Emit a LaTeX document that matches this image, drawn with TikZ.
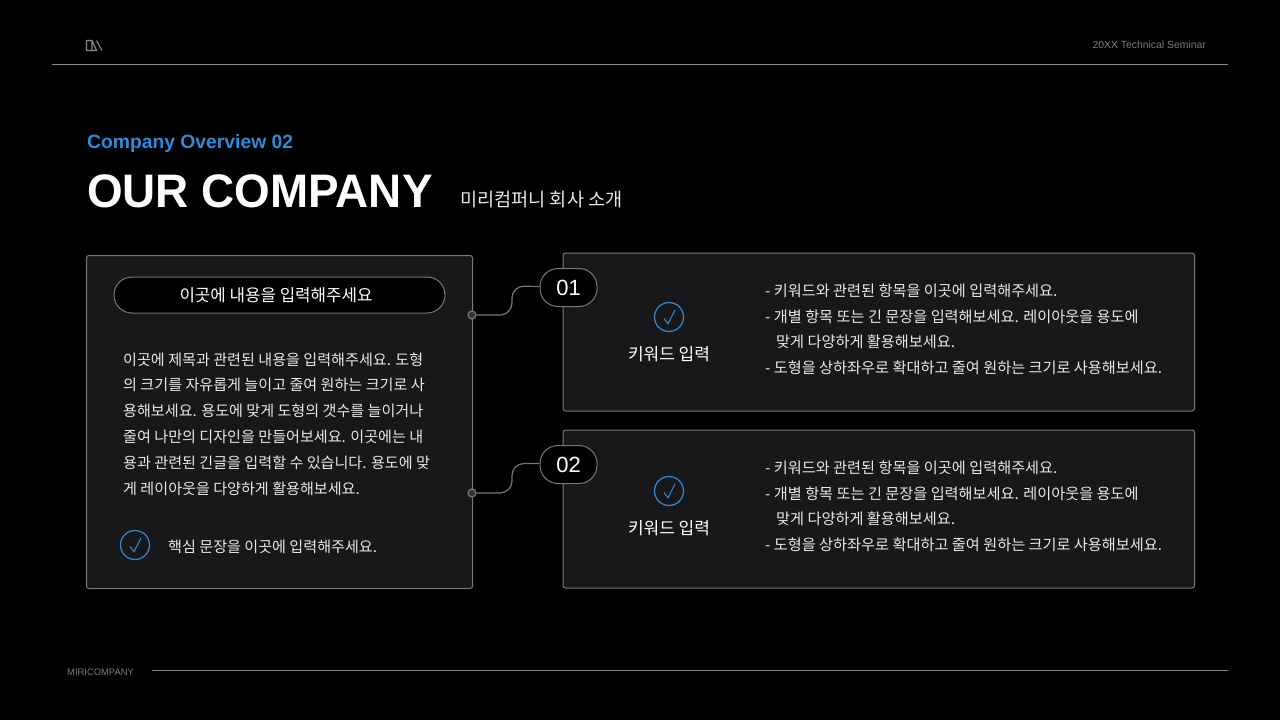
\documentclass[tikz,border=0pt]{standalone}
\usepackage{fontspec}
\setmainfont{Noto Sans CJK KR}
\newfontfamily\latinf{Liberation Sans}
\usetikzlibrary{calc}
\definecolor{bg}{HTML}{000000}
\definecolor{panel}{HTML}{18181B}
\definecolor{edge}{HTML}{77787A}
\definecolor{rulec}{HTML}{8C8C8C}
\definecolor{blue1}{HTML}{2E8BDB}
\definecolor{txt}{HTML}{E8E8E8}
\tikzset{
 panelbox/.style={draw=edge,fill=panel,line width=1pt,rounded corners=2.5pt},
 pill/.style={draw=edge,fill=black,line width=1pt,rounded corners=18pt,text=white,inner sep=0pt,anchor=center},
 wire/.style={draw=edge,line width=1.2pt,rounded corners=12pt},
 dotn/.style={circle,draw=edge,fill=panel!70!edge,line width=1.2pt,minimum size=8pt,inner sep=0pt},
 ln/.style={anchor=base west,inner sep=0pt,text=txt,font=\fontsize{15.2}{15.2}\selectfont},
 lnp/.style={ln,font=\fontsize{15.1}{15.1}\selectfont},
 kw/.style={anchor=center,inner sep=0pt,text=white,font=\fontsize{17}{17}\selectfont},
 ring/.style={circle,draw=blue1,line width=1.2pt,inner sep=0pt},
 tick/.style={draw=blue1,line width=1pt},
 small/.style={inner sep=0pt,text=rulec!115},
}
\newcommand{\blocktxt}[2]{%
 \node[ln] (#1a) at (765,#2) {- 키워드와 관련된 항목을 이곳에 입력해주세요.};
 \node[ln] (#1b) at (765,#2+25.7) {- 개별 항목 또는 긴 문장을 입력해보세요. 레이아웃을 용도에};
 \node[ln] (#1c) at (776,#2+51.4) {맞게 다양하게 활용해보세요.};
 \node[ln] (#1d) at (765,#2+77.1) {- 도형을 상하좌우로 확대하고 줄여 원하는 크기로 사용해보세요.};
}
\begin{document}
\begin{tikzpicture}[x=1pt,y=-1pt]
\useasboundingbox[fill=bg] (0,0) rectangle (1280,720);
% header
\draw[rulec,line width=0.8pt] (52,64.5) -- (1228,64.5);
\draw[rulec,line width=0.8pt] (152,670.5) -- (1228,670.5);
\draw[rulec,line width=1.1pt] (92,50.5) -- (86.5,50.5) -- (86.5,40.5) -- (92,40.5) -- (96.5,50.5) -- (92,50.5) -- (92,40.5);
\draw[rulec,line width=1.1pt] (96.5,40.5) -- (102,50.5);
\node[small,anchor=east,font=\latinf\fontsize{10.4}{10.4}\selectfont] (sem) at (1206,44.5) {20XX Technical Seminar};
\node[small,anchor=west,font=\latinf\fontsize{9.4}{9.4}\selectfont] (mc) at (67,672) {MIRICOMPANY};
% titles
\node[anchor=base west,inner sep=0pt,text=blue1,font=\latinf\bfseries\fontsize{19.3}{19.3}\selectfont] (ov) at (87,148) {Company Overview 02};
\node[anchor=base west,inner sep=0pt,text=white,xscale=.975,font=\latinf\bfseries\fontsize{47}{47}\selectfont] (ttl) at (87,207) {OUR COMPANY};
\node[anchor=base west,inner sep=0pt,text=txt,font=\fontsize{18.6}{18.6}\selectfont] (sub) at (460,206) {미리컴퍼니 회사 소개};
% panels
\path[panelbox] (86.5,255.5) rectangle (472.5,588.5);
\path[panelbox] (563,253) rectangle (1194.5,411);
\path[panelbox] (563,430) rectangle (1194.5,588);
% connectors
\node[dotn] (d1) at (472,315) {};
\node[dotn] (d2) at (472,493) {};
\node[pill,minimum width=57pt,minimum height=38pt,font=\latinf\fontsize{22}{22}\selectfont] (p1) at (568.5,287.5) {01};
\node[pill,minimum width=57pt,minimum height=38pt,font=\latinf\fontsize{22}{22}\selectfont] (p2) at (568.5,464.5) {02};
\draw[wire] (d1.east) -- (512,315) -- (512,286) -- ($(p1.west)+(0,-1)$);
\draw[wire] (d2.east) -- (512,493) -- (512,463.5) -- ($(p2.west)+(0,-1)$);
% left pill
\node[pill,minimum width=331pt,minimum height=36pt,font=\fontsize{16.8}{16.8}\selectfont] (hd) at (279.5,295) {이곳에 내용을 입력해주세요\hspace*{7pt}};
% left paragraph
\node[lnp] (l1) at (123,365) {이곳에 제목과 관련된 내용을 입력해주세요. 도형};
\node[lnp] (l2) at (123,390.9) {의 크기를 자유롭게 늘이고 줄여 원하는 크기로 사};
\node[lnp] (l3) at (123,416.8) {용해보세요. 용도에 맞게 도형의 갯수를 늘이거나};
\node[lnp] (l4) at (123,442.7) {줄여 나만의 디자인을 만들어보세요. 이곳에는 내};
\node[lnp] (l5) at (123,468.6) {용과 관련된 긴글을 입력할 수 있습니다. 용도에 맞};
\node[lnp] (l6) at (123,494.5) {게 레이아웃을 다양하게 활용해보세요.};
\node[ring,minimum size=29pt] (r0) at (135,545) {};
\draw[tick] (130,546.5) -- (134,551.7) -- (141,538);
\node[lnp] (l7) at (168,552.5) {핵심 문장을 이곳에 입력해주세요.};
% right blocks
\node[ring,minimum size=29pt] (r1) at (669,317) {};
\draw[tick] (664,318.5) -- (668,323.7) -- (675,310);
\node[kw] (k1) at (669,354.5) {키워드 입력};
\node[ring,minimum size=29pt] (r2) at (669,491) {};
\draw[tick] (664,492.5) -- (668,497.7) -- (675,484);
\node[kw] (k2) at (669,528) {키워드 입력};
\blocktxt{a}{296.5}
\blocktxt{b}{473.5}
\end{tikzpicture}
\end{document}
